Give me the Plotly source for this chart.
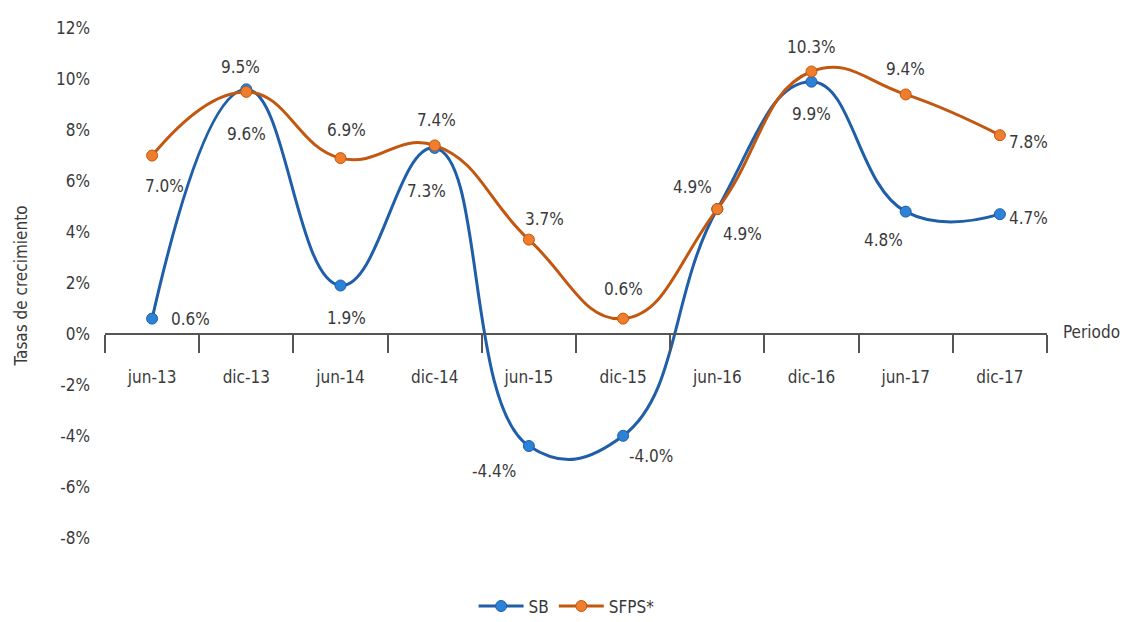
import plotly.graph_objects as go

periods = ["jun-13", "dic-13", "jun-14", "dic-14", "jun-15", "dic-15",
           "jun-16", "dic-16", "jun-17", "dic-17"]
sb = [0.6, 9.6, 1.9, 7.3, -4.4, -4.0, 4.9, 9.9, 4.8, 4.7]
sfps = [7.0, 9.5, 6.9, 7.4, 3.7, 0.6, 4.9, 10.3, 9.4, 7.8]
y_ticks = [-8, -6, -4, -2, 0, 2, 4, 6, 8, 10, 12]

# label offsets (px) relative to each point
sb_dx = [38, 0, 6, -8, -35, 28, 25, 0, -22, 29]
sb_dy = [0, -45, -32, -43, -25, -20, -25, -32, -28, -4]
sfps_dx = [12, -6, 6, 2, 16, 0, -25, 0, 0, 29]
sfps_dy = [-30, 25, 28, 25, 21, 30, 22, 25, 25, -7]

FONT = "DejaVu Sans Condensed, Roboto, Arial, sans-serif"
TXT = "#3a3a3a"
BLUE_L, BLUE_M = "#1f5ea8", "#2b82d6"
ORG_L, ORG_M = "#c2570f", "#ef7d2b"
FS = 17

fig = go.Figure()
fig.add_trace(go.Scatter(
    x=periods, y=sb, name="SB", mode="lines+markers",
    line=dict(color=BLUE_L, width=3, shape="spline", smoothing=1.3),
    marker=dict(color=BLUE_M, size=11, line=dict(color=BLUE_L, width=1)),
))
fig.add_trace(go.Scatter(
    x=periods, y=sfps, name="SFPS*", mode="lines+markers",
    line=dict(color=ORG_L, width=3, shape="spline", smoothing=1.3),
    marker=dict(color=ORG_M, size=11, line=dict(color=ORG_L, width=1)),
))

annotations = []
for i, p in enumerate(periods):
    annotations.append(dict(x=p, y=sb[i], xref="x", yref="y", showarrow=False,
                            text=f"{sb[i]:.1f}%", xshift=sb_dx[i], yshift=sb_dy[i],
                            font=dict(family=FONT, size=FS, color=TXT)))
    annotations.append(dict(x=p, y=sfps[i], xref="x", yref="y", showarrow=False,
                            text=f"{sfps[i]:.1f}%", xshift=sfps_dx[i], yshift=sfps_dy[i],
                            font=dict(family=FONT, size=FS, color=TXT)))
annotations.append(dict(x=1, y=0, xref="paper", yref="y", showarrow=False,
                        text="Periodo", xanchor="left", xshift=14, yshift=2,
                        font=dict(family=FONT, size=FS, color=TXT)))

y_lo, y_hi = -8.6, 12.4
fig.update_layout(
    width=1123, height=622,
    margin=dict(l=105, r=76, t=18, b=69, autoexpand=False),
    paper_bgcolor="white", plot_bgcolor="white",
    font=dict(family=FONT, size=FS, color=TXT),
    showlegend=True,
    legend=dict(orientation="h", x=0.49, xanchor="center",
                yref="container", y=0.025, yanchor="middle",
                itemwidth=45,
                font=dict(family=FONT, size=FS, color=TXT)),
    annotations=annotations,
    xaxis=dict(
        type="category", range=[-0.5, 9.5],
        anchor="free", position=(0 - y_lo) / (y_hi - y_lo),
        showline=True, linecolor="#555555", linewidth=2,
        ticks="outside", ticklen=18, tickwidth=1.5, tickcolor="#555555",
        tickson="boundaries", ticklabelstandoff=28,
        showgrid=False, zeroline=False,
        tickfont=dict(family=FONT, size=FS, color=TXT),
    ),
    yaxis=dict(
        range=[y_lo, y_hi], tickvals=y_ticks,
        ticktext=[f"{v}%" for v in y_ticks],
        showgrid=False, zeroline=False, showline=False, ticks="",
        ticklabelstandoff=14,
        tickfont=dict(family=FONT, size=FS, color=TXT),
        title=dict(text="Tasas de crecimiento", standoff=24,
                   font=dict(family=FONT, size=FS, color=TXT)),
    ),
)

fig.write_html("out.html")
